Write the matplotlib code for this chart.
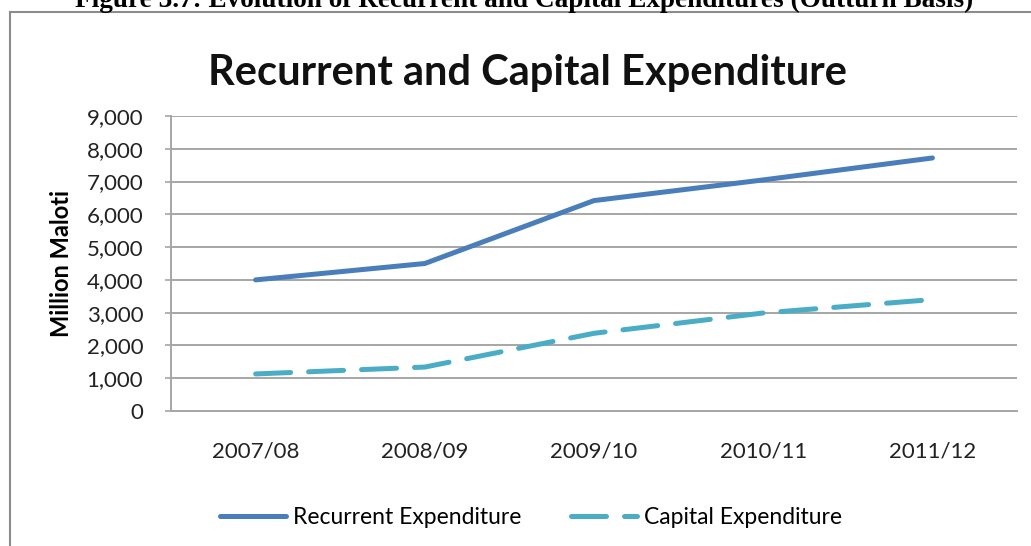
import matplotlib.pyplot as plt
from matplotlib.lines import Line2D
from matplotlib.ticker import FuncFormatter

# data (million maloti)
years = ['2007/08', '2008/09', '2009/10', '2010/11', '2011/12']
recurrent = [4000, 4500, 6420, 7050, 7720]
capital = [1130, 1340, 2370, 2990, 3400]

blue = '#4a7ebb'
aqua = '#4bacc6'
grid_grey = '#a6a6a6'
font = ['Lato', 'DejaVu Sans']

plt.rcParams['font.family'] = font

fig = plt.figure(figsize=(10.31, 5.46), dpi=100)
ax = fig.add_axes([0.1659, 0.2473, 0.8205, 0.5402])

x = range(len(years))
ax.plot(x, recurrent, color=blue, lw=3.6, solid_capstyle='round',
        label='Recurrent Expenditure')
ax.plot(x, capital, color=aqua, lw=3.6, dashes=(7, 3.6),
        dash_capstyle='round', label='Capital Expenditure')

ax.set_xlim(-0.5, len(years) - 0.5)
ax.set_ylim(0, 9000)
ax.set_yticks(range(0, 9001, 1000))
ax.yaxis.set_major_formatter(FuncFormatter(lambda v, p: f'{int(v):,}'))
ax.set_xticks(list(x))
ax.set_xticklabels(years)
ax.tick_params(axis='x', length=0, pad=22, labelsize=16, colors='#222222')
ax.tick_params(axis='y', length=4, width=1.2, color=grid_grey, pad=16,
               labelsize=16, labelcolor='#222222')
ax.grid(axis='y', color=grid_grey, lw=1.4)
ax.set_axisbelow(True)
for s in ['top', 'right']:
    ax.spines[s].set_visible(False)
for s in ['left', 'bottom']:
    ax.spines[s].set_color(grid_grey)
    ax.spines[s].set_linewidth(1.4)

ax.set_ylabel('Million Maloti', fontsize=17, fontweight='bold', labelpad=10)

fig.text(0.512, 1 - 85 / 546, 'Recurrent and Capital Expenditure', ha='center',
         va='baseline', fontsize=30, fontweight='bold', color='#111111')

# caption of the report figure, cut off at the top of the picture
fig.text(0.508, 1 - 7 / 546,
         'Figure 3.7: Evolution of Recurrent and Capital Expenditures (Outturn Basis)',
         ha='center', va='baseline', fontsize=19.6, fontweight='bold',
         family='Liberation Serif', color='black')

# chart box border (left and top edges visible)
fig.add_artist(Line2D([10 / 1031, 10 / 1031], [0, 1 - 12 / 546],
                      transform=fig.transFigure, color='#8c8c8c', lw=1.5))
fig.add_artist(Line2D([10 / 1031, 1], [1 - 12 / 546, 1 - 12 / 546],
                      transform=fig.transFigure, color='#8c8c8c', lw=1.5))

fig.legend(loc='center', bbox_to_anchor=(0.515, 0.053), ncol=2, frameon=False,
           fontsize=16.5, handlelength=2.85, handletextpad=0.3, columnspacing=2.2)

fig.savefig('out.png', dpi=100)
